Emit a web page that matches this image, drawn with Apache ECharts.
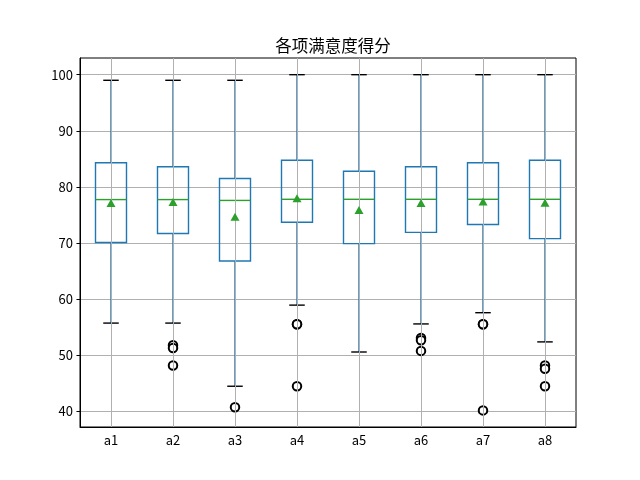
<!DOCTYPE html>
<html>
<head>
<meta charset="utf-8">
<script src="https://cdn.jsdelivr.net/npm/echarts@6/dist/echarts.min.js"></script>
<style>html,body{margin:0;padding:0;background:#fff}#c{width:640px;height:480px}</style>
</head>
<body>
<div id="c"></div>
<script>
const categories = ['a1','a2','a3','a4','a5','a6','a7','a8'];
const whiskerLow  = [55.75, 55.75, 44.5, 58.95, 50.6, 55.6, 57.6, 52.4];
const q1          = [70.1, 71.7, 66.8, 73.7, 69.9, 71.9, 73.3, 70.8];
const medians     = [77.75, 77.75, 77.6, 77.8, 77.8, 77.8, 77.8, 77.8];
const q3          = [84.3, 83.6, 81.5, 84.75, 82.8, 83.6, 84.3, 84.75];
const whiskerHigh = [99, 99, 99, 100, 100, 100, 100, 100];
const means       = [77.15, 77.3, 74.7, 78.0, 75.9, 77.15, 77.4, 77.2];
const outliers = {
  a2: [51.8, 51.3, 48.2],
  a3: [40.75],
  a4: [55.55, 55.55, 44.5],
  a6: [53.1, 52.7, 50.8],
  a7: [55.55, 55.55, 40.2],
  a8: [48.2, 47.6, 44.5]
};
const yTicks = [40, 50, 60, 70, 80, 90, 100];
const yMin = 37.24, yMax = 102.97;
const titleText = '各项满意度得分';

const boxData = categories.map((c, i) => [i, whiskerLow[i], q1[i], medians[i], q3[i], whiskerHigh[i]]);
const meanData = categories.map((c, i) => [c, means[i]]);
const outlierData = [];
categories.forEach(c => { (outliers[c] || []).forEach(v => outlierData.push([c, v])); });

const BLUE = '#1f77b4', GREEN = '#2ca02c', GRID = '#b0b0b0';
const FONT = '"Noto Sans CJK SC", "Liberation Sans", sans-serif';

function renderBox(params, api) {
  const idx = api.value(0);
  const band = api.size([1, 0])[0];
  const halfBox = band * 0.25;
  const halfCap = band * 0.125;
  const pLow = api.coord([idx, api.value(1)]);
  const pQ1 = api.coord([idx, api.value(2)]);
  const pMed = api.coord([idx, api.value(3)]);
  const pQ3 = api.coord([idx, api.value(4)]);
  const pHigh = api.coord([idx, api.value(5)]);
  const x = pQ1[0];
  const lw = 1.4;
  return {
    type: 'group',
    children: [
      { type: 'line', shape: { x1: x, y1: pQ1[1], x2: x, y2: pLow[1] }, style: { stroke: BLUE, lineWidth: lw } },
      { type: 'line', shape: { x1: x, y1: pQ3[1], x2: x, y2: pHigh[1] }, style: { stroke: BLUE, lineWidth: lw } },
      { type: 'line', shape: { x1: x - halfCap, y1: pLow[1], x2: x + halfCap, y2: pLow[1] }, style: { stroke: '#000', lineWidth: lw } },
      { type: 'line', shape: { x1: x - halfCap, y1: pHigh[1], x2: x + halfCap, y2: pHigh[1] }, style: { stroke: '#000', lineWidth: lw } },
      { type: 'rect', shape: { x: x - halfBox, y: pQ3[1], width: halfBox * 2, height: pQ1[1] - pQ3[1] }, style: { fill: 'none', stroke: BLUE, lineWidth: lw } },
      { type: 'line', shape: { x1: x - halfBox, y1: pMed[1], x2: x + halfBox, y2: pMed[1] }, style: { stroke: GREEN, lineWidth: lw } }
    ]
  };
}

const chart = echarts.init(document.getElementById('c'), null, { renderer: 'canvas' });
chart.setOption({
  animation: false,
  backgroundColor: '#fff',
  title: {
    text: titleText,
    left: 328,
    top: 32,
    textAlign: 'center',
    textStyle: { fontFamily: FONT, fontSize: 16.5, fontWeight: 'normal', color: '#000' }
  },
  grid: { left: 80, right: 64, top: 58, bottom: 53, show: true, borderColor: '#000', borderWidth: 1, backgroundColor: 'transparent' },
  xAxis: {
    type: 'category',
    data: categories,
    axisLine: { lineStyle: { color: '#000', width: 1 } },
    axisTick: { alignWithLabel: true, length: 3.5, lineStyle: { color: '#000' } },
    axisLabel: { margin: 7, color: '#000', fontSize: 13, fontFamily: FONT },
    splitLine: { show: false }
  },
  yAxis: {
    type: 'value',
    min: yMin,
    max: yMax,
    axisLine: { show: true, lineStyle: { color: '#000', width: 1 } },
    axisTick: { show: true, length: 3.5, lineStyle: { color: '#000' }, customValues: yTicks },
    axisLabel: { margin: 7, color: '#000', fontSize: 13, fontFamily: FONT, customValues: yTicks },
    splitLine: { show: true, lineStyle: { color: GRID, width: 1 } }
  },
  series: [
    {
      type: 'scatter',
      z: 1,
      data: [],
      markLine: {
        silent: true,
        symbol: ['none', 'none'],
        label: { show: false },
        lineStyle: { color: GRID, width: 1, type: 'solid', opacity: 1 },
        emphasis: { disabled: true },
        data: categories.map(c => ({ xAxis: c }))
      }
    },
    {
      type: 'custom',
      z: 3,
      renderItem: renderBox,
      encode: { x: 0, y: [1, 2, 3, 4, 5] },
      data: boxData
    },
    {
      type: 'scatter',
      z: 4,
      symbol: 'emptyCircle',
      symbolSize: 8.5,
      itemStyle: { color: '#000', borderColor: '#000', borderWidth: 1.3, opacity: 1 },
      data: outlierData
    },
    {
      type: 'scatter',
      z: 5,
      symbol: 'triangle',
      symbolSize: [9, 8],
      itemStyle: { color: GREEN, opacity: 1 },
      data: meanData
    }
  ]
});
</script>
</body>
</html>
